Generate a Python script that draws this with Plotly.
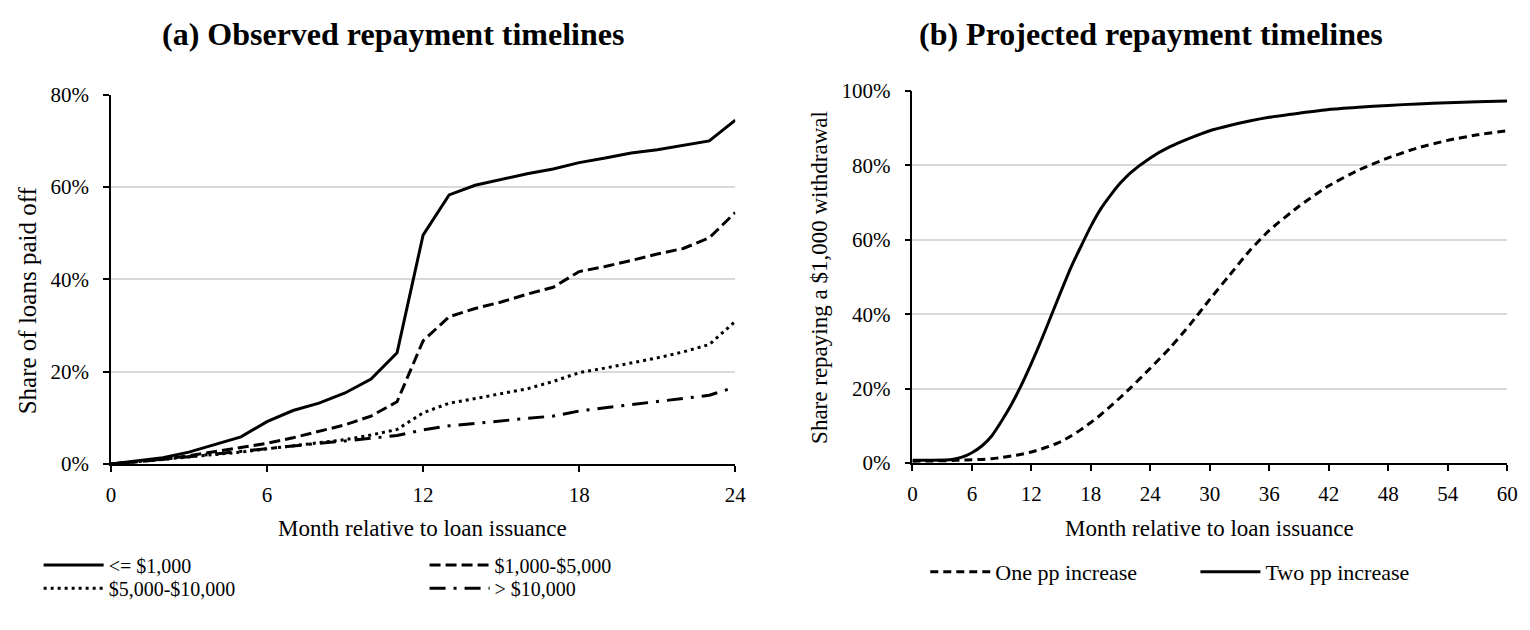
import plotly.graph_objects as go

# ---- Panel (a): observed repayment timelines, months 0-24 ----
months_a = list(range(0, 25))
upto_1k = [0, 0.7, 1.4, 2.6, 4.2, 5.9, 9.2, 11.6, 13.2, 15.4, 18.4, 24.1, 49.6,
           58.3, 60.4, 61.6, 62.9, 63.9, 65.3, 66.3, 67.4, 68.1, 69.0, 70.0, 74.5]
k1_to_5k = [0, 0.5, 1.0, 1.8, 2.7, 3.5, 4.5, 5.7, 7.1, 8.5, 10.4, 13.5, 26.7,
            31.9, 33.7, 35.1, 36.8, 38.3, 41.7, 42.8, 44.1, 45.5, 46.7, 49.0, 54.5]
k5_to_10k = [0, 0.5, 1.0, 1.5, 2.0, 2.6, 3.3, 4.0, 4.7, 5.3, 6.3, 7.5, 11.1,
             13.2, 14.2, 15.3, 16.3, 17.9, 19.8, 20.8, 21.9, 23.0, 24.3, 25.9, 30.9]
over_10k = [0, 0.5, 1.0, 1.6, 2.2, 2.8, 3.4, 4.0, 4.5, 5.0, 5.6, 6.2, 7.4,
            8.3, 8.8, 9.4, 9.9, 10.4, 11.5, 12.2, 12.85, 13.5, 14.2, 14.9, 16.7]
names_a = ["&lt;= $1,000", "$1,000-$5,000", "$5,000-$10,000", "&gt; $10,000"]
ticks_a_x = [0, 6, 12, 18, 24]
ticks_a_y = [0, 20, 40, 60, 80]

# ---- Panel (b): projected repayment timelines, months 0-60 ----
months_b = [0, 2, 4, 5, 6, 7, 8, 9, 10, 11, 12, 13, 14, 15, 16, 17, 18, 19, 20,
            21, 22, 24, 26, 28, 30, 32, 34, 36, 39, 42, 45, 48, 51, 54, 57, 60]
one_pp = [0.5, 0.6, 0.7, 0.8, 0.9, 1.0, 1.2, 1.5, 1.9, 2.4, 3.0, 3.8, 4.7, 5.8,
          7.3, 9.0, 10.9, 13.0, 15.3, 17.7, 20.2, 25.5, 31.0, 37.2, 44.0, 50.5,
          57.0, 62.5, 69.0, 74.5, 78.7, 82.0, 84.7, 86.7, 88.2, 89.3]
two_pp = [0.8, 0.8, 1.0, 1.6, 2.8, 4.6, 7.3, 11.3, 15.8, 21.0, 26.8, 33.0, 39.6,
          46.2, 52.6, 58.2, 63.6, 68.3, 72.0, 75.3, 78.0, 82.0, 85.0, 87.3, 89.3,
          90.7, 91.9, 92.9, 94.0, 95.0, 95.6, 96.1, 96.5, 96.8, 97.1, 97.3]
names_b = ["One pp increase", "Two pp increase"]
ticks_b_x = list(range(0, 61, 6))
ticks_b_y = [0, 20, 40, 60, 80, 100]

FONT = "Liberation Serif"
W, H = 1530, 630


def px_x(p):
    return p / W


def px_y(p):
    return (H - p) / H


fig = go.Figure()

styles_a = [
    dict(dash="solid", width=3),
    dict(dash="11px,5px", width=3),
    dict(dash="3px,4px", width=3),
    dict(dash="16px,8px,3px,8px", width=3),
]
series_a = [upto_1k, k1_to_5k, k5_to_10k, over_10k]
legends_a = ["legend", "legend2", "legend3", "legend4"]
for name, ys, st, lg in zip(names_a, series_a, styles_a, legends_a):
    fig.add_trace(go.Scatter(
        x=months_a, y=ys, name=name, mode="lines", showlegend=True,
        line=dict(color="black", width=st["width"], dash=st["dash"]),
        xaxis="x", yaxis="y", legend=lg, hoverinfo="skip"))

styles_b = [dict(dash="8px,5px", width=3), dict(dash="solid", width=3)]
series_b = [one_pp, two_pp]
legends_b = ["legend5", "legend6"]
for name, ys, st, lg in zip(names_b, series_b, styles_b, legends_b):
    fig.add_trace(go.Scatter(
        x=months_b, y=ys, name=name, mode="lines", showlegend=True,
        line=dict(color="black", width=st["width"], dash=st["dash"],
                  shape="spline", smoothing=0.6),
        xaxis="x2", yaxis="y2", legend=lg, hoverinfo="skip"))

tick_font = dict(family=FONT, size=21, color="black")

common_x = dict(showgrid=False, zeroline=False, showline=True, linecolor="black",
                linewidth=1.5, ticks="outside", ticklen=6, tickcolor="black",
                tickwidth=1.5, tickfont=tick_font, ticklabelstandoff=5,
                fixedrange=True)
common_y = dict(showgrid=True, gridcolor="#d9d9d9", gridwidth=1.5, zeroline=False,
                showline=True, linecolor="black", linewidth=1.5, ticks="outside",
                ticklen=6, tickcolor="black", tickwidth=1.5, tickfont=tick_font,
                ticklabelstandoff=10, fixedrange=True)


def legend_at(x, y, size):
    return dict(x=px_x(x), y=px_y(y), font=dict(family=FONT, size=size, color="black"),
                bgcolor="rgba(0,0,0,0)", borderwidth=0, itemwidth=60,
                xanchor="left", yanchor="middle", orientation="h")


def text_note(text, x, y, size, angle=0, bold=False):
    return dict(text=f"<b>{text}</b>" if bold else text, x=px_x(x), y=px_y(y),
                xref="paper", yref="paper", showarrow=False,
                xanchor="center", yanchor="middle", textangle=angle,
                font=dict(family=FONT, size=size, color="black"))


fig.update_layout(
    width=W, height=H,
    margin=dict(l=0, r=0, t=0, b=0),
    showlegend=True,
    paper_bgcolor="white", plot_bgcolor="white",
    font=dict(family=FONT, color="black"),
    xaxis=dict(domain=[px_x(107), px_x(738)], range=[0, 24], tickvals=ticks_a_x,
               anchor="y", **common_x),
    yaxis=dict(domain=[px_y(470), px_y(86)], range=[0, 80], tickvals=ticks_a_y,
               ticktext=[f"{v}%" for v in ticks_a_y], anchor="x", **common_y),
    xaxis2=dict(domain=[px_x(917), px_x(1518)], range=[0, 60], tickvals=ticks_b_x,
                anchor="y2", **common_x),
    yaxis2=dict(domain=[px_y(469), px_y(82)], range=[0, 100], tickvals=ticks_b_y,
                ticktext=[f"{v}%" for v in ticks_b_y], anchor="x2", **common_y),
    legend=legend_at(34, 575, 20),
    legend2=legend_at(424, 575, 20),
    legend3=legend_at(34, 599, 20),
    legend4=legend_at(424, 599, 20),
    legend5=legend_at(930, 582, 22),
    legend6=legend_at(1203, 582, 22),
    annotations=[
        text_note("(a) Observed repayment timelines", 392, 23, 32, bold=True),
        text_note("(b) Projected repayment timelines", 1158, 23, 32, bold=True),
        text_note("Month relative to loan issuance", 422, 537, 23),
        text_note("Month relative to loan issuance", 1217, 537, 23),
        text_note("Share of loans paid off", 23, 300, 25, angle=-90),
        text_note("Share repaying a $1,000 withdrawal", 823, 276, 23, angle=-90),
    ],
)

fig.write_html("out.html")
